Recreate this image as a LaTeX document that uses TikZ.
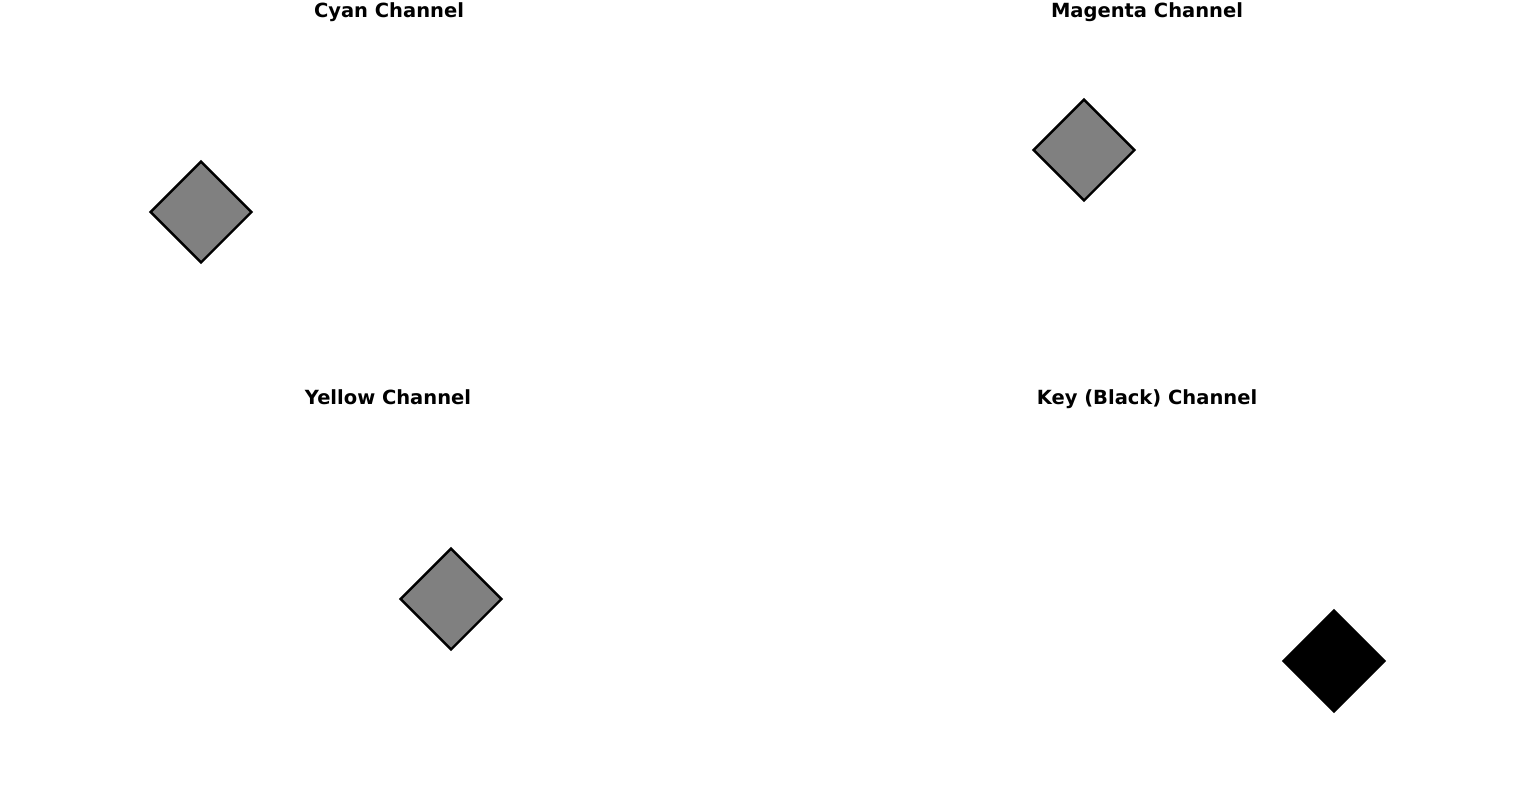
\documentclass[tikz,border=0pt]{standalone}
\usepackage{fontspec}
\setmainfont{DejaVu Sans}
\usetikzlibrary{shapes.geometric}
\begin{document}
\begin{tikzpicture}[x=0.02cm,y=-0.02cm,
        chtitle/.style={anchor=base,font=\bfseries\fontsize{11.1}{13}\selectfont,inner sep=0pt},
        marker/.style={diamond,draw=black,line width=1.4pt,fill=black!50,minimum width=2.04cm,minimum height=2.04cm,inner sep=0pt}]
        \useasboundingbox (0,0) rectangle (1536,802);
        \node[chtitle] (tc) at (389,17) {Cyan Channel};
        \node[chtitle] (tm) at (1147,17) {Magenta Channel};
        \node[chtitle] (ty) at (388,404) {Yellow Channel};
        \node[chtitle] (tk) at (1147,404) {Key (Black) Channel};
        \node[marker] (c) at (201,212) {};
        \node[marker] (m) at (1084,150) {};
        \node[marker] (y) at (451,599) {};
        \node[marker,fill=black] (k) at (1334,661) {};
    \end{tikzpicture}
\end{document}
